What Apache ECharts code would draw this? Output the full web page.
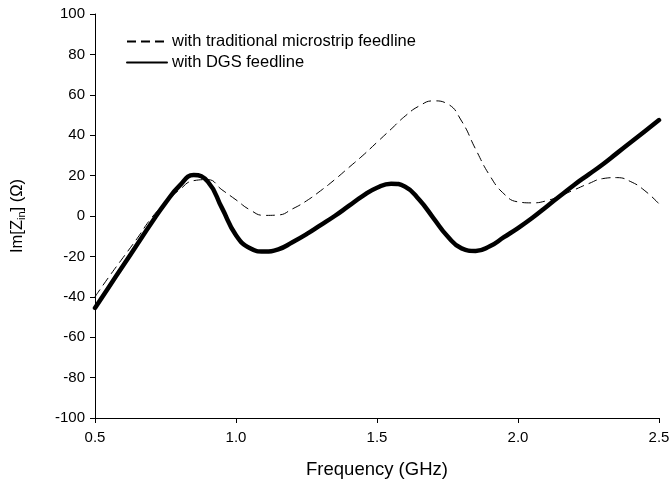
<!DOCTYPE html>
<html>
<head>
<meta charset="utf-8">
<script src="https://cdn.jsdelivr.net/npm/echarts@6/dist/echarts.min.js"></script>
<style>
  html, body { margin: 0; padding: 0; background: #fff; }
  #main { width: 671px; height: 482px; }
</style>
</head>
<body>
<div id="main"></div>
<script>
// frequencies (GHz)
var freq = [0.50, 0.55, 0.60, 0.65, 0.70, 0.75, 0.80, 0.85, 0.90, 0.95, 1.00, 1.05, 1.10, 1.15, 1.20, 1.25, 1.30, 1.35, 1.40, 1.45, 1.50, 1.55, 1.60, 1.65, 1.70, 1.75, 1.80, 1.85, 1.90, 1.95, 2.00, 2.05, 2.10, 2.15, 2.20, 2.25, 2.30, 2.35, 2.40, 2.45, 2.50];
// Im[Zin] with traditional microstrip feedline
var traditional = [-40, -30, -20.5, -11, -1, 6.5, 13, 17.5, 18, 13, 8, 3, 0.3, 0.5, 3.5, 7.5, 12.5, 18, 24, 30, 36.5, 43, 49.5, 54.5, 57, 55.5, 47, 33, 20, 11, 7, 6.5, 7.5, 10, 13, 16, 18.5, 19, 17, 12.5, 6];
// Im[Zin] with DGS feedline
var dgs = [-45.5, -35, -24.5, -14, -3.5, 6.5, 15, 20.3, 17, 4, -9.5, -16, -17.6, -16.5, -13, -9, -4.5, 0, 5, 10, 14, 16, 14.5, 8, -1, -10, -16, -17.3, -15, -10.5, -6, -1, 4.5, 10, 15.5, 20.5, 25.5, 31, 36.5, 42, 47.5];

var xTicks = [0.5, 1.0, 1.5, 2.0, 2.5];
var seriesNames = ['with traditional microstrip feedline', 'with DGS feedline'];

function pairs(ys) {
  return freq.map(function (f, i) { return [f, ys[i]]; });
}

var myChart = echarts.init(document.getElementById('main'));
var font = 'Liberation Sans, Arial, sans-serif';

var option = {
  animation: false,
  textStyle: { fontFamily: font },
  grid: { left: 95, right: 12, top: 14, bottom: 64, outerBoundsMode: 'none' },
  legend: {
    data: seriesNames,
    orient: 'vertical',
    left: 121,
    top: 28,
    itemWidth: 40,
    itemHeight: 12,
    itemGap: 4,
    itemStyle: { opacity: 0 },
    textStyle: { fontSize: 16.5, color: '#000', fontFamily: font }
  },
  xAxis: {
    type: 'value',
    min: 0.5,
    max: 2.5,
    interval: 0.5,
    name: 'Frequency (GHz)',
    nameLocation: 'middle',
    nameGap: 42,
    nameTextStyle: { fontSize: 18.5, color: '#000', fontFamily: font },
    axisLine: { onZero: false, lineStyle: { color: '#000', width: 1 } },
    axisTick: { show: true, inside: false, length: 5, lineStyle: { color: '#000' } },
    axisLabel: {
      fontSize: 15, color: '#000', margin: 12,
      formatter: function (v) { return xTicks.indexOf(v) >= 0 ? v.toFixed(1) : ''; }
    },
    splitLine: { show: false }
  },
  yAxis: {
    type: 'value',
    min: -100,
    max: 100,
    interval: 20,
    name: '{a|Im[Z}{s|in}{a|] (Ω)}',
    nameLocation: 'middle',
    nameGap: 68,
    nameTextStyle: {
      rich: {
        a: { fontSize: 16.5, color: '#000', fontFamily: font },
        s: { fontSize: 11, color: '#000', fontFamily: font, padding: [8, 0, 0, 0] }
      }
    },
    axisLine: { show: true, onZero: false, lineStyle: { color: '#000', width: 1 } },
    axisTick: { show: true, inside: false, length: 5, lineStyle: { color: '#000' } },
    axisLabel: { fontSize: 15, color: '#000', margin: 10 },
    splitLine: { show: false }
  },
  series: [
    {
      name: seriesNames[0],
      type: 'line',
      data: pairs(traditional),
      smooth: 0.5,
      symbol: 'none',
      lineStyle: { color: '#000', width: 1, type: [9, 5] },
      itemStyle: { color: '#000' }
    },
    {
      name: seriesNames[1],
      type: 'line',
      data: pairs(dgs),
      smooth: 0.5,
      symbol: 'none',
      lineStyle: { color: '#000', width: 4.5, cap: 'round' },
      itemStyle: { color: '#000' }
    }
  ]
};

myChart.setOption(option);
</script>
</body>
</html>
